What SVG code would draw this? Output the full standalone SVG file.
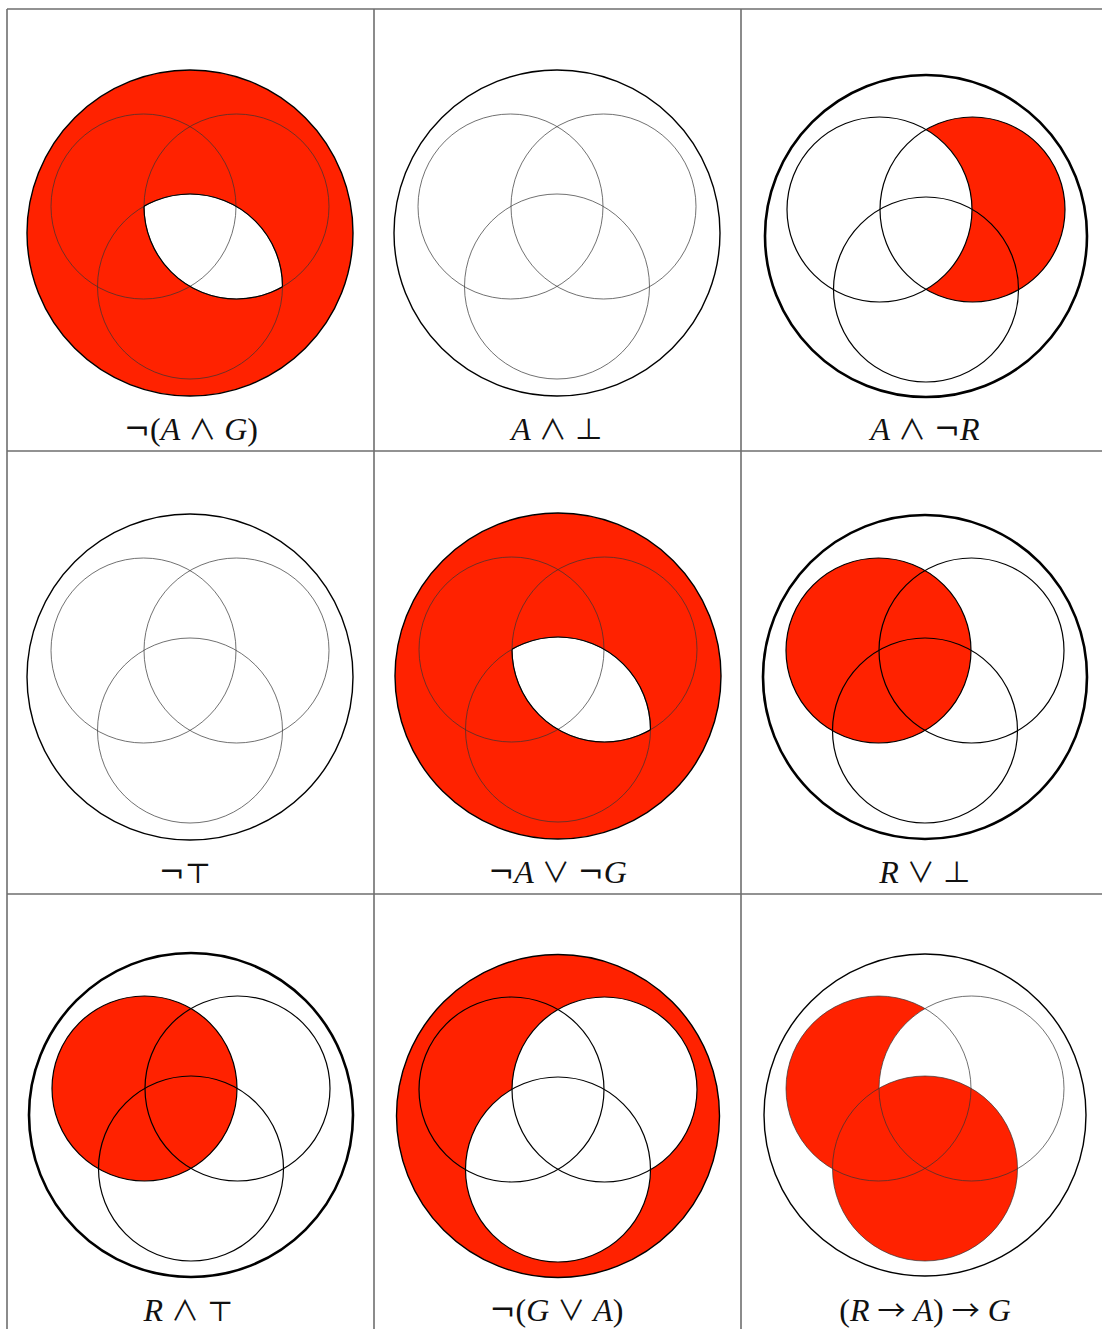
<svg xmlns="http://www.w3.org/2000/svg" width="1102" height="1329" viewBox="0 0 1102 1329">
<style>
.grid{stroke:#6e6e6e;stroke-width:1.6;fill:none}
.red{fill:#ff2200}
.wh{fill:#fff}
.o1{fill:none;stroke:#000;stroke-width:1.4}
.o2{fill:none;stroke:#000;stroke-width:2.6}
.t{fill:none;stroke:#333;stroke-width:0.7}
.m{fill:none;stroke:#000;stroke-width:1.2}
.lab{font-family:"Liberation Serif","DejaVu Serif",serif;font-size:32px;fill:#111;text-anchor:middle}
.i{font-style:italic}
.s{font-family:"DejaVu Serif","Liberation Serif",serif;font-size:31px}
.b{font-family:"Noto Sans CJK JP","DejaVu Serif",serif;font-size:28px}
</style>
<defs>
<clipPath id="cR"><circle cx="-46.5" cy="-26.5" r="92.5"/></clipPath>
<clipPath id="cA"><circle cx="46.5" cy="-26.5" r="92.5"/></clipPath>
<clipPath id="cG"><circle cx="0" cy="53.5" r="92.5"/></clipPath>
<circle id="R" cx="-46.5" cy="-26.5" r="92.5"/>
<circle id="A" cx="46.5" cy="-26.5" r="92.5"/>
<circle id="G" cx="0" cy="53.5" r="92.5"/>
</defs>
<g id="grid">
<line class="grid" x1="7" y1="9" x2="1102" y2="9"/>
<line class="grid" x1="7" y1="451" x2="1102" y2="451"/>
<line class="grid" x1="7" y1="894" x2="1102" y2="894"/>
<line class="grid" x1="7" y1="9" x2="7" y2="1329"/>
<line class="grid" x1="374" y1="9" x2="374" y2="1329"/>
<line class="grid" x1="741" y1="9" x2="741" y2="1329"/>
</g>
<g id="cell1" transform="translate(190,233)">
<circle r="163" class="red"/>
<use href="#A" class="wh" clip-path="url(#cG)"/>
<circle r="163" class="o1"/>
<use href="#R" class="t"/><use href="#A" class="t"/><use href="#G" class="t"/>
<use href="#A" class="m" clip-path="url(#cG)"/><use href="#G" class="m" clip-path="url(#cA)"/>
</g>
<g id="cell2" transform="translate(557,233)">
<circle r="163" class="o1"/>
<use href="#R" class="t"/><use href="#A" class="t"/><use href="#G" class="t"/>
</g>
<g id="cell3" transform="translate(926,236)">
<use href="#A" class="red"/>
<use href="#R" class="wh"/>
<circle r="161" class="o2"/>
<use href="#R" class="m"/><use href="#A" class="m"/><use href="#G" class="m"/>
</g>
<g id="cell4" transform="translate(190,677)">
<circle r="163" class="o1"/>
<use href="#R" class="t"/><use href="#A" class="t"/><use href="#G" class="t"/>
</g>
<g id="cell5" transform="translate(558,676)">
<circle r="163" class="red"/>
<use href="#A" class="wh" clip-path="url(#cG)"/>
<circle r="163" class="o1"/>
<use href="#R" class="t"/><use href="#A" class="t"/><use href="#G" class="t"/>
<use href="#A" class="m" clip-path="url(#cG)"/><use href="#G" class="m" clip-path="url(#cA)"/>
</g>
<g id="cell6" transform="translate(925,677)">
<use href="#R" class="red"/>
<circle r="162" class="o2"/>
<use href="#R" class="m"/><use href="#A" class="m"/><use href="#G" class="m"/>
</g>
<g id="cell7" transform="translate(191,1115)">
<use href="#R" class="red"/>
<circle r="162" class="o2"/>
<use href="#R" class="m"/><use href="#A" class="m"/><use href="#G" class="m"/>
</g>
<g id="cell8" transform="translate(558,1116)">
<circle r="161.5" class="red"/>
<use href="#A" class="wh"/><use href="#G" class="wh"/>
<circle r="161.5" class="o1"/>
<use href="#R" class="m"/><use href="#A" class="m"/><use href="#G" class="m"/>
</g>
<g id="cell9" transform="translate(925,1115)">
<use href="#R" class="red"/>
<use href="#A" class="wh"/>
<use href="#G" class="red"/>
<circle r="161" class="o1"/>
<use href="#R" class="t"/><use href="#A" class="t"/><use href="#G" class="t"/>
</g>
<g id="labels">
<text class="lab" x="191" y="440"><tspan class="s">¬</tspan>(<tspan class="i">A</tspan> <tspan class="b">∧</tspan> <tspan class="i">G</tspan>)</text>
<text class="lab" x="557" y="440"><tspan class="i">A</tspan> <tspan class="b">∧</tspan> <tspan class="b">⊥</tspan></text>
<text class="lab" x="925" y="440"><tspan class="i">A</tspan> <tspan class="b">∧</tspan> <tspan class="s">¬</tspan><tspan class="i">R</tspan></text>
<text class="lab" x="185" y="883"><tspan class="s">¬</tspan><tspan class="b">⊤</tspan></text>
<text class="lab" x="557.5" y="883"><tspan class="s">¬</tspan><tspan class="i">A</tspan> <tspan class="b">∨</tspan> <tspan class="s">¬</tspan><tspan class="i">G</tspan></text>
<text class="lab" x="925" y="883"><tspan class="i">R</tspan> <tspan class="b">∨</tspan> <tspan class="b">⊥</tspan></text>
<text class="lab" x="188.5" y="1321"><tspan class="i">R</tspan> <tspan class="b">∧</tspan> <tspan class="b">⊤</tspan></text>
<text class="lab" x="556.5" y="1321"><tspan class="s">¬</tspan>(<tspan class="i">G</tspan> <tspan class="b">∨</tspan> <tspan class="i">A</tspan>)</text>
<text class="lab" x="925" y="1321">(<tspan class="i">R</tspan> <tspan class="b">→</tspan> <tspan class="i">A</tspan>) <tspan class="b">→</tspan> <tspan class="i">G</tspan></text>
</g>
</svg>
